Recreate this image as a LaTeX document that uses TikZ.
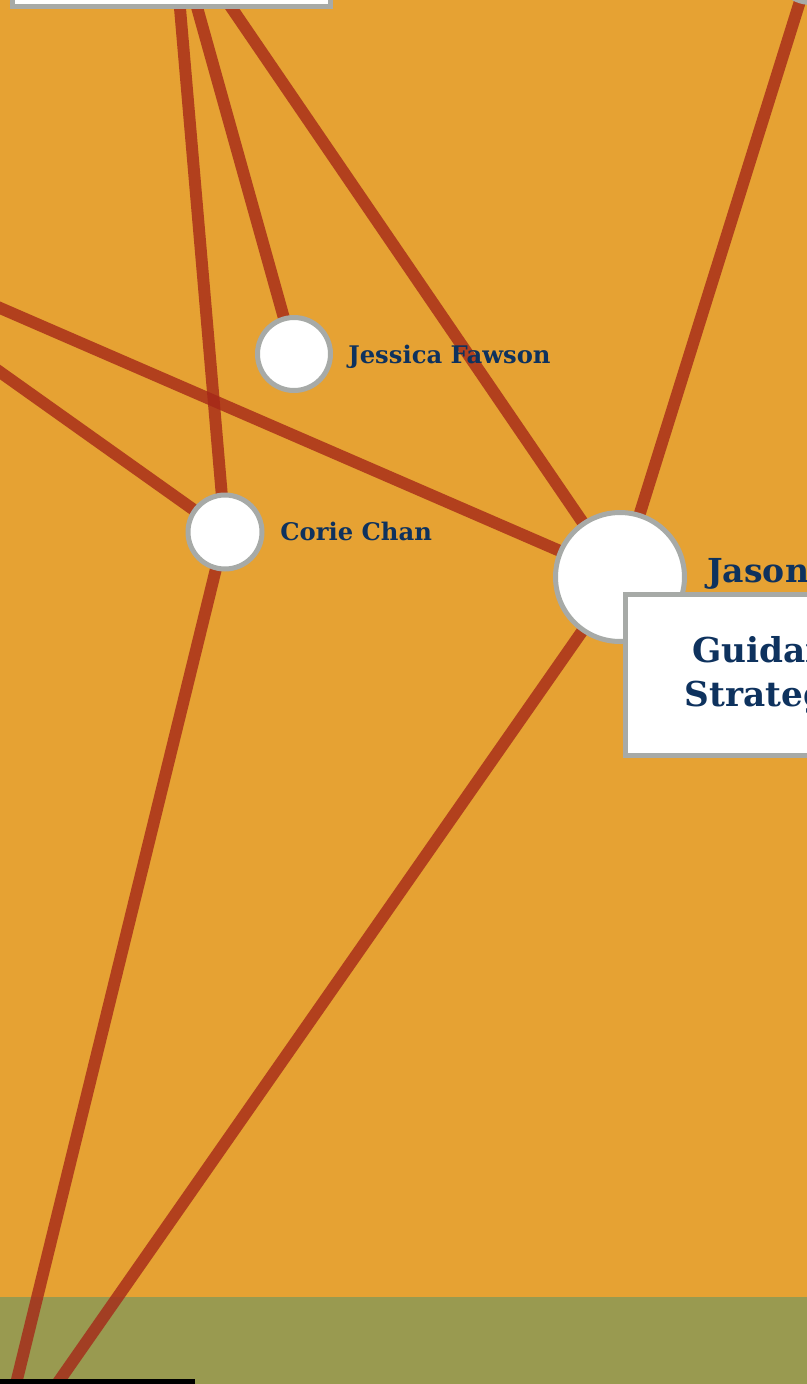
\documentclass[tikz,border=0pt]{standalone}
\usepackage{fontspec}
\setmainfont{DejaVu Serif}
\definecolor{bgorange}{RGB}{230,162,51}
\definecolor{bandgreen}{RGB}{153,154,80}
\definecolor{linkred}{RGB}{165,40,24}
\definecolor{edgegrey}{RGB}{167,170,167}
\definecolor{navy}{RGB}{14,50,94}
\pgfdeclarelayer{back}
\pgfdeclarelayer{lines}
\pgfsetlayers{back,lines,main}

\begin{document}
\begin{tikzpicture}[x=0.02cm,y=-0.02cm,
  person/.style={circle,draw=edgegrey,fill=white,line width=2.85pt,minimum size=1.46cm,inner sep=0pt,outer sep=0pt},
  personlabel/.style={text=navy,font=\bfseries\fontsize{13.8}{16}\selectfont,anchor=base west,inner sep=0pt},
  biglabel/.style={personlabel,font=\bfseries\fontsize{18.8}{23.9}\selectfont},
  card/.style={rectangle,fill=white,draw=edgegrey,line width=2.85pt,outer sep=0pt,inner sep=0pt},
  link/.style={draw=linkred,opacity=0.8,line width=6.8pt}]
\useasboundingbox (0,0) rectangle (807,1384);
\clip (0,0) rectangle (807,1384);
\begin{pgfonlayer}{back}
\fill[bgorange] (0,0) rectangle (807,1384);
\fill[bandgreen] (0,1297) rectangle (807,1384); % lower band
\end{pgfonlayer}

% boxes cut by the edges
\node[card,anchor=south west,minimum width=6.36cm,minimum height=2cm] (topbox) at (12.5,6.5) {};
\node[card,draw=black,anchor=north west,minimum width=4.25cm,minimum height=2cm] (bottombox) at (-20,1381.5) {};

% people
\node[person] (jessica) at (294,354) {};
\node[personlabel] (jessicalabel) at (348,363) {Jessica Fawson};
\node[person,minimum size=1.48cm] (corie) at (225,532) {};
\node[personlabel] (corielabel) at (280,540) {Corie Chan};
\node[person,minimum size=2.58cm] (jason) at (620,577) {};
\node[biglabel] (jasonlabel) at (707,582) {Jason};
\node[person] (corner) at (811,-34) {};
\node[card,font=\bfseries\fontsize{19.5}{25}\selectfont,text=navy,anchor=north west,align=center,minimum width=6.3cm,minimum height=3.22cm] (guidebox) at (625.5,594.5) {Guidance\\Strategies};

% free ends
\coordinate (topA) at (179.3,0);
\coordinate (topB) at (195,0);
\coordinate (topC) at (226.2,0);
\coordinate (leftD) at (-40,290.6);
\coordinate (leftE) at (-40,343.6);
\coordinate (botA) at (12,1400);
\coordinate (botB) at (45.8,1400);

\begin{pgfonlayer}{lines}
\draw[link] (topA) -- (corie.center);
\draw[link] (topB) -- (jessica.center);
\draw[link] (topC) -- (jason.center);
\draw[link] (leftD) -- (jason.center);
\draw[link] (leftE) -- (corie.center);
\draw[link] (corner.center) -- (jason.center);
\draw[link] (corie.center) -- (botA);
\draw[link] (jason.center) -- (botB);
\end{pgfonlayer}
\end{tikzpicture}
\end{document}
